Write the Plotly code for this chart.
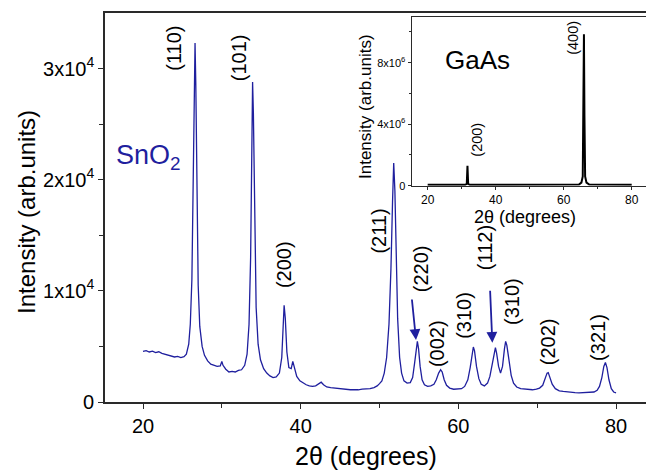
import plotly.graph_objects as go

# ---- Main SnO2 XRD pattern (2theta in degrees, intensity in counts) ----
two_theta = [20.0, 20.4, 20.8, 21.2, 21.6, 22.0, 22.4, 22.8, 23.2, 23.6, 24.0, 24.4, 24.8, 25.2, 25.5,
             25.8, 26.0, 26.2, 26.35, 26.5, 26.6, 26.7, 26.85, 27.0, 27.2, 27.5, 27.8, 28.2, 28.6, 29.0,
             29.4, 29.8, 30.0, 30.15, 30.5, 30.9, 31.3, 31.7, 32.1, 32.5, 32.9, 33.2, 33.45, 33.65, 33.8,
             33.9, 34.0, 34.15, 34.35, 34.6, 34.9, 35.3, 35.7, 36.1, 36.5, 36.9, 37.3, 37.6, 37.8, 37.9,
             38.05, 38.25, 38.5, 38.8, 39.0, 39.2, 39.5, 39.9, 40.3, 40.7, 41.1, 41.5, 41.9, 42.3, 42.6,
             42.9, 43.3, 43.8, 44.3, 44.8, 45.3, 45.8, 46.3, 46.8, 47.3, 47.8, 48.3, 48.8, 49.3, 49.7,
             50.0, 50.3, 50.6, 50.9, 51.2, 51.45, 51.65, 51.8, 51.95, 52.1, 52.3, 52.55, 52.8, 53.1, 53.5,
             53.9, 54.2, 54.45, 54.65, 54.8, 54.95, 55.15, 55.4, 55.7, 56.1, 56.5, 56.9, 57.2, 57.5, 57.75,
             57.95, 58.2, 58.5, 58.9, 59.4, 59.9, 60.4, 60.8, 61.2, 61.5, 61.75, 61.9, 62.05, 62.3, 62.6,
             62.9, 63.3, 63.7, 64.0, 64.3, 64.55, 64.7, 64.85, 65.1, 65.35, 65.6, 65.85, 66.0, 66.15, 66.4,
             66.7, 67.0, 67.4, 67.9, 68.4, 68.9, 69.4, 69.9, 70.3, 70.7, 71.0, 71.25, 71.4, 71.6, 71.9,
             72.3, 72.8, 73.3, 73.8, 74.3, 74.8, 75.3, 75.8, 76.3, 76.8, 77.2, 77.6, 77.9, 78.2, 78.45,
             78.65, 78.85, 79.1, 79.4, 79.7, 80.0]
intensity = [4550, 4620, 4500, 4580, 4450, 4520, 4380, 4300, 4220, 4150, 4050, 4100, 4000, 4080, 4300,
             5200, 7000, 11000, 18000, 28000, 32300, 28500, 18000, 10500, 6800, 5000, 4200, 3700, 3400, 3300,
             3200, 3250, 3650, 3300, 2950, 2700, 2750, 2700, 2850, 2900, 3300, 4300, 7000, 13000, 22000,
             28800, 26000, 16000, 8500, 5200, 3800, 3000, 2600, 2350, 2200, 2250, 2600, 4000, 7000, 8700,
             7500, 4500, 3100, 3000, 3650, 3100, 2300, 1900, 1700, 1550, 1450, 1400, 1450, 1600, 1780,
             1550, 1350, 1300, 1250, 1200, 1150, 1150, 1100, 1120, 1100, 1150, 1180, 1200, 1300, 1450,
             1650, 1900, 2600, 4000, 7000, 12000, 18000, 21500, 19000, 13000, 7500, 4000, 2600, 1900, 1700,
             1750, 2200, 3500, 5000, 5450, 4800, 3200, 2000, 1550, 1400, 1450, 1600, 2000, 2600, 2900,
             2700, 2000, 1500, 1250, 1150, 1150, 1200, 1400, 2000, 3100, 4500, 4950, 4600, 3200, 2100,
             1600, 1450, 1700, 2300, 3400, 4500, 4900, 4400, 3200, 2600, 3200, 4800, 5450, 5100, 3700,
             2400, 1700, 1350, 1200, 1150, 1100, 1100, 1150, 1250, 1500, 2100, 2600, 2650, 2300, 1600,
             1200, 1000, 950, 900, 880, 850, 830, 850, 820, 860, 900, 1050, 1400, 2200, 3200,
             3550, 3100, 2000, 1200, 900, 820]

# ---- Peak labels of the main pattern: (label, 2theta, intensity position of label) ----
peak_labels = ["(110)", "(101)", "(200)", "(211)", "(220)", "(002)", "(310)", "(112)", "(310)", "(202)", "(321)"]
peak_label_x = [23.9, 32.2, 37.9, 49.9, 55.3, 57.3, 60.7, 63.4, 66.8, 71.4, 77.7]
peak_label_y = [31850, 30950, 12330, 15400, 11970, 5220, 7830, 13860, 9090, 5400, 5850]

# arrows pointing to the (220) and (112) peaks: tail and head positions (2theta, intensity)
arrow_tail_x = [54.09, 64.02]
arrow_tail_y = [9360, 10140]
arrow_head_x = [54.63, 64.31]
arrow_head_y = [5580, 5330]

# ---- Inset: GaAs substrate pattern ----
gaas_theta = [20.0, 31.0, 31.5, 31.7, 31.9, 32.4, 64.5, 65.2, 65.6, 65.8, 65.95, 66.1, 66.3, 66.7, 67.5, 80.0]
gaas_int = [0.06e6, 0.06e6, 0.12e6, 1.3e6, 0.12e6, 0.06e6, 0.07e6, 0.2e6, 0.6e6, 4.5e6, 9.85e6, 4.5e6, 0.6e6, 0.2e6, 0.07e6, 0.06e6]
gaas_labels = ["(200)", "(400)"]
gaas_label_x = [34.4, 62.65]
gaas_label_y = [2.97e6, 9.6e6]

main_ticks = [0, 10000, 20000, 30000]
main_ticktext = ["0", "1x10<sup>4</sup>", "2x10<sup>4</sup>", "3x10<sup>4</sup>"]
inset_ticks = [0, 4e6, 8e6]
inset_ticktext = ["0", "4x10<sup>6</sup>", "8x10<sup>6</sup>"]

FONT = "Liberation Sans, Arial, sans-serif"
BLUE = "#1f1f9e"
AX = "#2a2a2a"

fig = go.Figure()
fig.add_trace(go.Scatter(x=two_theta, y=intensity, mode="lines",
                         line=dict(color=BLUE, width=1.3), xaxis="x", yaxis="y", showlegend=False))
fig.add_trace(go.Scatter(x=gaas_theta, y=gaas_int, mode="lines",
                         line=dict(color="black", width=2), xaxis="x2", yaxis="y2", showlegend=False))

annotations = []
for t, x, y in zip(peak_labels, peak_label_x, peak_label_y):
    annotations.append(dict(text=t, x=x, y=y, xref="x", yref="y", showarrow=False, textangle=-90,
                            font=dict(family=FONT, size=20, color="black")))
for tx, ty, hx, hy in zip(arrow_tail_x, arrow_tail_y, arrow_head_x, arrow_head_y):
    annotations.append(dict(text="", x=hx, y=hy, ax=tx, ay=ty, xref="x", yref="y", axref="x", ayref="y",
                            showarrow=True, arrowhead=2, arrowsize=1.2, arrowwidth=1.8, arrowcolor=BLUE))
for t, x, y in zip(gaas_labels, gaas_label_x, gaas_label_y):
    annotations.append(dict(text=t, x=x, y=y, xref="x2", yref="y2", showarrow=False, textangle=-90,
                            font=dict(family=FONT, size=14.5, color="black")))
annotations += [
    dict(text="SnO<sub>2</sub>", x=148, y=157, showarrow=False,
         font=dict(family=FONT, size=27, color=BLUE)),
    dict(text="GaAs", x=477, y=60, showarrow=False, font=dict(family=FONT, size=26, color="black")),
    dict(text="Intensity (arb.units)", x=26, y=212, showarrow=False, textangle=-90,
         font=dict(family=FONT, size=24, color="black")),
    dict(text="2θ (degrees)", x=366, y=456, showarrow=False, font=dict(family=FONT, size=25, color="black")),
    dict(text="Intensity (arb.units)", x=366, y=107, showarrow=False, textangle=-90,
         font=dict(family=FONT, size=17, color="black")),
    dict(text="2θ (degrees)", x=525, y=217, showarrow=False, font=dict(family=FONT, size=18, color="black")),
]

# convert pixel-positioned annotations to paper coordinates
W, H = 646, 470
ML, MR, MT, MB = 105, 0, 13, 68
PW, PH = W - ML - MR, H - MT - MB
for a in annotations:
    if "xref" not in a:
        a["x"] = (a["x"] - ML) / PW
        a["y"] = (H - MB - a["y"]) / PH
        a["xref"] = "paper"
        a["yref"] = "paper"
        a["xanchor"] = "center"
        a["yanchor"] = "middle"

fig.update_layout(
    width=W, height=H,
    margin=dict(l=ML, r=MR, t=MT, b=MB, pad=0),
    paper_bgcolor="white", plot_bgcolor="white",
    font=dict(family=FONT, color="black"),
    annotations=annotations,
    xaxis=dict(domain=[0, 1], range=[15.18, 83.8], tickvals=[20, 40, 60, 80],
               showline=True, linecolor=AX, linewidth=1.6, mirror=True,
               ticks="outside", ticklen=5, tickwidth=1.4, tickcolor=AX,
               minor=dict(tickvals=[30, 50, 70], ticks="outside", ticklen=4, tickwidth=1.2, tickcolor=AX),
               tickfont=dict(family=FONT, size=20), showgrid=False, zeroline=False),
    yaxis=dict(domain=[0, 1], range=[0, 35000], tickvals=main_ticks, ticktext=main_ticktext,
               showline=True, linecolor=AX, linewidth=1.6, mirror=False,
               ticks="outside", ticklen=5, tickwidth=1.4, tickcolor=AX,
               minor=dict(tickvals=[5000, 15000, 25000], ticks="outside", ticklen=4, tickwidth=1.2, tickcolor=AX),
               tickfont=dict(family=FONT, size=20), showgrid=False, zeroline=False),
    xaxis2=dict(domain=[(411.7 - ML) / PW, 1], range=[15.3, 84.2], anchor="y2", tickvals=[20, 40, 60, 80],
                showline=True, linecolor=AX, linewidth=1.2, mirror=True,
                ticks="outside", ticklen=3, tickwidth=1, tickcolor=AX,
                minor=dict(tickvals=[30, 50, 70], ticks="outside", ticklen=2, tickwidth=1, tickcolor=AX),
                tickfont=dict(family=FONT, size=12), showgrid=False, zeroline=False),
    yaxis2=dict(domain=[(H - MB - 185.7) / PH, (H - MB - 17.3) / PH], range=[0, 1.095e7], anchor="x2",
                tickvals=inset_ticks, ticktext=inset_ticktext,
                showline=True, linecolor=AX, linewidth=1.2, mirror=False,
                ticks="outside", ticklen=3, tickwidth=1, tickcolor=AX,
                minor=dict(tickvals=[2e6, 6e6, 10e6], ticks="outside", ticklen=2, tickwidth=1, tickcolor=AX),
                tickfont=dict(family=FONT, size=11), showgrid=False, zeroline=False),
)

fig.write_html("out.html")
